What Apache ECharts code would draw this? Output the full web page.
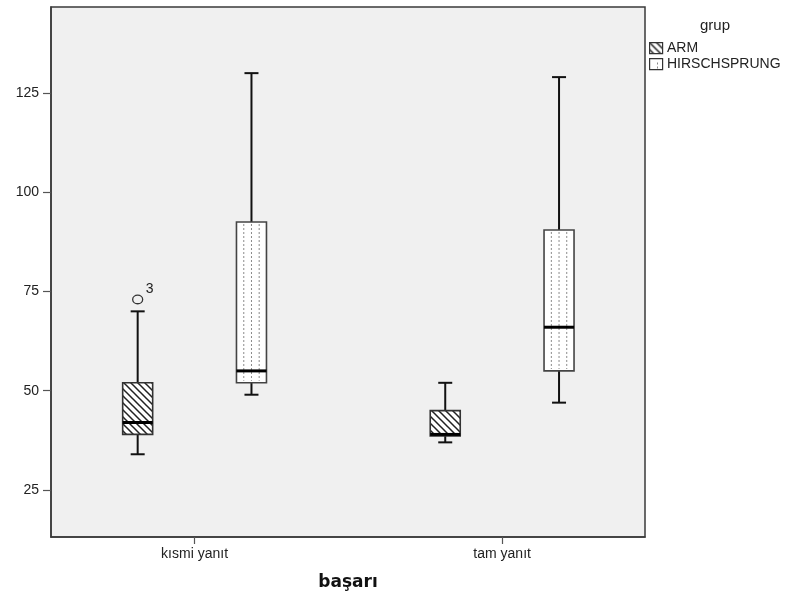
<!DOCTYPE html>
<html>
<head>
<meta charset="utf-8">
<script src="https://cdn.jsdelivr.net/npm/echarts@6/dist/echarts.min.js"></script>
<style>
html,body{margin:0;padding:0;background:#fff;}
#chart{width:786px;height:596px;}
</style>
</head>
<body>
<div id="chart"></div>
<script>
// ---- data ----
const categories = ['kısmi yanıt', 'tam yanıt'];
const groups = ['ARM', 'HIRSCHSPRUNG'];
// [min, Q1, median, Q3, max] per category
const armStats = [[34, 39, 42, 52, 70], [37, 38.6, 39, 45, 52]];
const hirschStats = [[49, 52, 55, 92.5, 130], [47, 55, 66, 90.5, 129]];
// outliers: [category index, value, case label]
const armOutliers = [[0, 73, '3']];
const yTicks = [25, 50, 75, 100, 125];

// ---- styling / layout ----
const GROUP_OFFSET = 0.185;
const BOX_HALF = 15;
const CAP_HALF = 7;

function makeHatch() {
  const c = document.createElement('canvas');
  const s = 7;
  c.width = s; c.height = s;
  const ctx = c.getContext('2d');
  ctx.fillStyle = '#ffffff';
  ctx.fillRect(0, 0, s, s);
  ctx.strokeStyle = '#222';
  ctx.lineWidth = 1.5;
  ctx.beginPath();
  ctx.moveTo(-1, -1); ctx.lineTo(s + 1, s + 1);
  ctx.moveTo(-1, s - 1); ctx.lineTo(1, s + 1);
  ctx.moveTo(s - 1, -1); ctx.lineTo(s + 1, 1);
  ctx.stroke();
  return c;
}
const hatch = makeHatch();

function boxRender(offset, kind) {
  return function (params, api) {
    const cat = api.value(0);
    const mn = api.value(1), q1 = api.value(2), md = api.value(3), q3 = api.value(4), mx = api.value(5);
    const cx = api.coord([cat + offset, mn])[0];
    const Y = v => api.coord([cat, v])[1];
    const yMin = Y(mn), yQ1 = Y(q1), yMd = Y(md), yQ3 = Y(q3), yMax = Y(mx);
    const ch = [];
    const wStyle = { stroke: '#111', lineWidth: 2 };
    ch.push({ type: 'line', shape: { x1: cx, y1: yMax, x2: cx, y2: yQ3 }, style: wStyle });
    ch.push({ type: 'line', shape: { x1: cx, y1: yQ1, x2: cx, y2: yMin }, style: wStyle });
    ch.push({ type: 'line', shape: { x1: cx - CAP_HALF, y1: yMax, x2: cx + CAP_HALF, y2: yMax }, style: wStyle });
    ch.push({ type: 'line', shape: { x1: cx - CAP_HALF, y1: yMin, x2: cx + CAP_HALF, y2: yMin }, style: wStyle });
    const rect = { x: cx - BOX_HALF, y: yQ3, width: BOX_HALF * 2, height: yQ1 - yQ3 };
    if (kind === 'arm') {
      ch.push({ type: 'rect', shape: rect, style: { fill: { image: hatch, repeat: 'repeat' }, stroke: '#333', lineWidth: 1.6 } });
    } else {
      ch.push({ type: 'rect', shape: rect, style: { fill: '#ffffff', stroke: '#444', lineWidth: 1.6 } });
      [-7.7, 0, 7.7].forEach(dx => {
        ch.push({ type: 'line', shape: { x1: cx + dx, y1: yQ3 + 2, x2: cx + dx, y2: yQ1 - 2 },
          style: { stroke: '#8a8a8a', lineWidth: 1, lineDash: [2, 2] } });
      });
    }
    ch.push({ type: 'line', shape: { x1: cx - BOX_HALF, y1: yMd, x2: cx + BOX_HALF, y2: yMd }, style: { stroke: '#000', lineWidth: 3 } });
    return { type: 'group', children: ch };
  };
}

function outlierRender(offset) {
  return function (params, api) {
    const cat = api.value(0);
    const v = api.value(1);
    const p = api.coord([cat + offset, v]);
    return { type: 'group', children: [
      { type: 'ellipse', shape: { cx: p[0], cy: p[1], rx: 5, ry: 4.3 }, style: { fill: 'none', stroke: '#333', lineWidth: 1.3 } },
      { type: 'text', x: p[0] + 8, y: p[1] - 3, style: { text: armOutliers[params.dataIndex][2], fill: '#222', font: '14px Arial, "Liberation Sans", sans-serif', textVerticalAlign: 'bottom' } }
    ] };
  };
}

const armData = armStats.map((s, i) => [i].concat(s));
const hirschData = hirschStats.map((s, i) => [i].concat(s));

const chart = echarts.init(document.getElementById('chart'), null, { renderer: 'canvas' });
chart.setOption({
  animation: false,
  backgroundColor: '#ffffff',
  grid: { left: 51, right: 141, top: 7, bottom: 59, show: true, backgroundColor: '#f0f0f0', borderColor: '#3a3a3a', borderWidth: 1.5 },
  xAxis: {
    type: 'value', min: -0.4668, max: 1.4645,
    splitLine: { show: false },
    axisLine: { show: true, onZero: false, lineStyle: { color: '#3a3a3a', width: 1.5 } },
    axisTick: { show: true, customValues: [0, 1], length: 7, lineStyle: { color: '#555', width: 1.2 } },
    axisLabel: { customValues: [0, 1], formatter: v => categories[Math.round(v)], color: '#222', fontSize: 14, fontFamily: 'Arial, "Liberation Sans", sans-serif', margin: 10 },
    name: 'başarı', nameLocation: 'middle', nameGap: 37,
    nameTextStyle: { fontWeight: 'bold', fontSize: 17, color: '#111', fontFamily: '"DejaVu Sans", sans-serif' }
  },
  yAxis: {
    type: 'value', min: 13.16, max: 146.66,
    splitLine: { show: false },
    axisLine: { show: true, onZero: false, lineStyle: { color: '#3a3a3a', width: 1.5 } },
    axisTick: { show: true, customValues: yTicks, length: 8, lineStyle: { color: '#555', width: 1.2 } },
    axisLabel: { customValues: yTicks, color: '#222', fontSize: 14, fontFamily: 'Arial, "Liberation Sans", sans-serif', margin: 12 }
  },
  series: [
    { type: 'custom', name: groups[0], renderItem: boxRender(-GROUP_OFFSET, 'arm'), data: armData, encode: { x: 0, y: [1, 2, 3, 4, 5] }, clip: false },
    { type: 'custom', name: groups[1], renderItem: boxRender(GROUP_OFFSET, 'hir'), data: hirschData, encode: { x: 0, y: [1, 2, 3, 4, 5] }, clip: false },
    { type: 'custom', name: 'outliers', renderItem: outlierRender(-GROUP_OFFSET), data: armOutliers.map(o => [o[0], o[1]]), encode: { x: 0, y: 1 }, clip: false }
  ],
  graphic: [
    { type: 'text', left: 700, top: 18, style: { text: 'grup', font: '15px Arial, "Liberation Sans", sans-serif', fill: '#222' } },
    { type: 'rect', left: 649, top: 42, shape: { width: 13, height: 11 }, style: { fill: { image: hatch, repeat: 'repeat' }, stroke: '#333', lineWidth: 1.2 } },
    { type: 'text', left: 667, top: 41, style: { text: groups[0], font: '14px Arial, "Liberation Sans", sans-serif', fill: '#222' } },
    { type: 'rect', left: 649, top: 58, shape: { width: 13, height: 11 }, style: { fill: '#fff', stroke: '#333', lineWidth: 1.2 } },
    { type: 'line', left: 655, top: 60, shape: { x1: 0, y1: 0, x2: 0, y2: 7 }, style: { stroke: '#888', lineWidth: 1, lineDash: [2, 2] } },
    { type: 'text', left: 667, top: 57, style: { text: groups[1], font: '14px Arial, "Liberation Sans", sans-serif', fill: '#222' } }
  ]
});
</script>
</body>
</html>
